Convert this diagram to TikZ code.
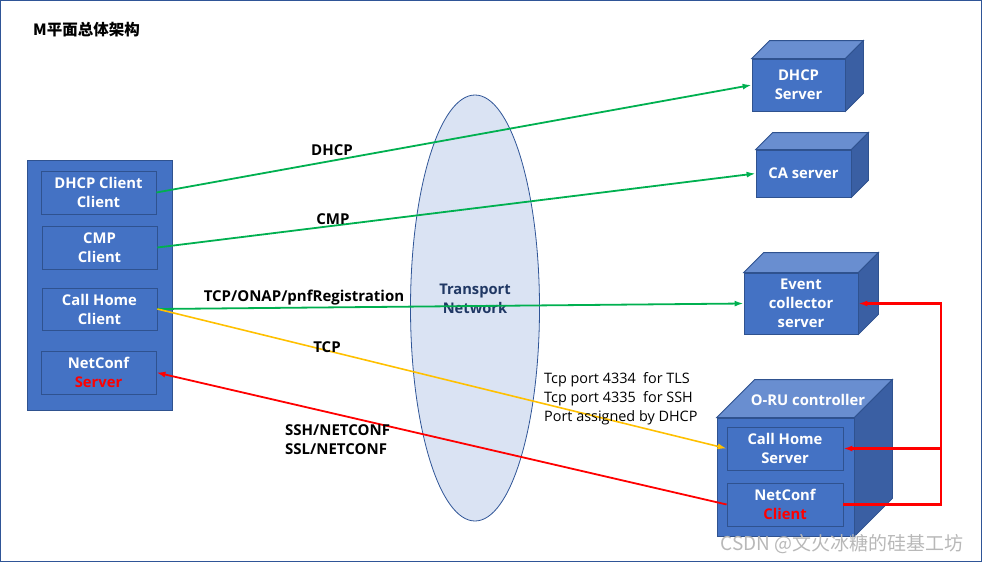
\documentclass[tikz,border=0pt]{standalone}
\usepackage{fontspec}
\setmainfont{Open Sans}
\newfontfamily\cjk{Noto Sans CJK SC}
\usetikzlibrary{arrows.meta,shapes.geometric,calc}
\definecolor{boxblue}{HTML}{4472C4}
\definecolor{boxedge}{HTML}{2F528F}
\definecolor{topblue}{HTML}{698ED0}
\definecolor{sideblue}{HTML}{3A5FA3}
\definecolor{netfill}{HTML}{DAE3F3}
\definecolor{netedge}{HTML}{2F5597}
\definecolor{nettext}{HTML}{203864}
\definecolor{lgreen}{HTML}{00B050}
\definecolor{lyellow}{HTML}{FFC000}
\definecolor{lred}{HTML}{FF0000}
\definecolor{wmgray}{HTML}{B8B8B8}
\newcommand\cubefaces[2]{%
  \filldraw[fill=topblue,draw=boxedge,line width=0.8pt] (#1.north west) -- ++(#2,-#2) -- ([shift={(#2,-#2)}]#1.north east) -- (#1.north east) -- cycle;
  \filldraw[fill=sideblue,draw=boxedge,line width=0.8pt] (#1.north east) -- ++(#2,-#2) -- ([shift={(#2,-#2)}]#1.south east) -- (#1.south east) -- cycle;}
\begin{document}
\begin{tikzpicture}[x=1pt,y=-1pt,
  front/.style={draw=boxedge,fill=boxblue,line width=0.8pt,text=white,font=\bfseries\fontsize{14.8}{19}\selectfont,align=center,inner sep=0pt},
  inbox/.style={draw=boxedge,fill=boxblue,line width=0.8pt,text=white,font=\bfseries\fontsize{14.8}{19}\selectfont,align=center,inner sep=0pt},
  lbl/.style={font=\bfseries\fontsize{15}{19}\selectfont,text=black,inner sep=0pt},
  plain/.style={font=\fontsize{14.4}{19}\selectfont,text=black,inner sep=0pt,align=left},
  gline/.style={draw=lgreen,line width=1.8pt,-{Latex[length=9pt,width=6pt]}},
  yline/.style={draw=lyellow,line width=1.6pt,-{Latex[length=9pt,width=6pt]}},
  rline/.style={draw=lred,line width=1.8pt,-{Latex[length=9pt,width=6pt]}},
]
\useasboundingbox (0,0) rectangle (982,562);
\draw[netedge,line width=1pt] (0.5,0.5) rectangle (981.5,561.5);
\node[anchor=west,font=\cjk\bfseries\fontsize{15.5}{18}\selectfont,inner sep=0pt] (title) at (33,30) {M平面总体架构};

% left box
\filldraw[fill=boxblue,draw=boxedge,line width=0.8pt] (27,160) rectangle (172,410);
\node[inbox,minimum width=115pt,minimum height=43pt] (dhcpc) at (98.5,192.5) {DHCP Client\\Client};
\node[inbox,minimum width=115pt,minimum height=43pt] (cmpc) at (99.5,247.5) {CMP\\Client};
\node[inbox,minimum width=115pt,minimum height=42pt] (chc) at (99.5,309) {Call Home\\Client};
\node[inbox,minimum width=115pt,minimum height=43pt] (ncs) at (98.5,372.5) {NetConf\\\textcolor{lred}{Server}};

% transport network
\node[ellipse,draw=netedge,fill=netfill,line width=0.8pt,minimum width=129pt,minimum height=426pt,inner sep=0pt] (tn) at (475,308) {};
\node[font=\bfseries\fontsize{14.7}{19}\selectfont,text=nettext,align=center] (tnl) at (475,299) {Transport\\Network};

% servers
\node[front,minimum width=93pt,minimum height=52pt] (dhcps) at (798.5,85) {DHCP\\Server};
\cubefaces{dhcps}{18}
\node[front,minimum width=95pt,minimum height=47pt] (cas) at (803.5,173.5) {CA server};
\cubefaces{cas}{17}
\node[front,minimum width=114pt,minimum height=61pt] (evc) at (801,303.5) {Event\\collector\\server};
\cubefaces{evc}{20}
\node[front,minimum width=137pt,minimum height=118pt] (oru) at (785.5,477) {};
\cubefaces{oru}{38}
\node[font=\bfseries\fontsize{14.8}{19}\selectfont,text=white] (orul) at (808,400) {O-RU controller};
\node[inbox,minimum width=116pt,minimum height=43pt] (chs) at (785,448.5) {Call Home\\Server};
\node[inbox,minimum width=116pt,minimum height=43pt] (ncc) at (785,504.5) {NetConf\\\textcolor{lred}{Client}};

% connectors
\draw[gline] (dhcpc.east) -- (dhcps.west);
\draw[gline] (cmpc.east) -- (cas.west);
\draw[gline] (chc.east) -- (evc.west);
\draw[yline] (chc.east) -- (chs.west);
\draw[rline] (ncc.west) -- (ncs.east);
\coordinate (rail) at (941,0);
\draw[rline,line width=2.2pt] (ncc.east) -- (ncc.east -| rail) |- (evc.east);
\draw[rline,line width=2.2pt] (chs.east -| rail) -- (chs.east);

% labels
\node[lbl] (l1) at (332,150) {DHCP};
\node[lbl] (l2) at (333,219) {CMP};
\node[lbl] (l3) at (304,298) {TCP/ONAP/pnfRegistration};
\node[lbl] (l4) at (327,347) {TCP};
\node[lbl,anchor=north west,align=left] (l5) at (285,424) {SSH/NETCONF\\SSL/NETCONF};
\node[plain,anchor=north west] (ports) at (544,372) {Tcp port 4334~ for TLS\\Tcp port 4335~ for SSH\\Port assigned by DHCP};

\node[anchor=east,font=\cjk\fontsize{19}{22}\selectfont,text=wmgray] (wm) at (967,544) {CSDN @文火冰糖的硅基工坊};
\end{tikzpicture}
\end{document}
